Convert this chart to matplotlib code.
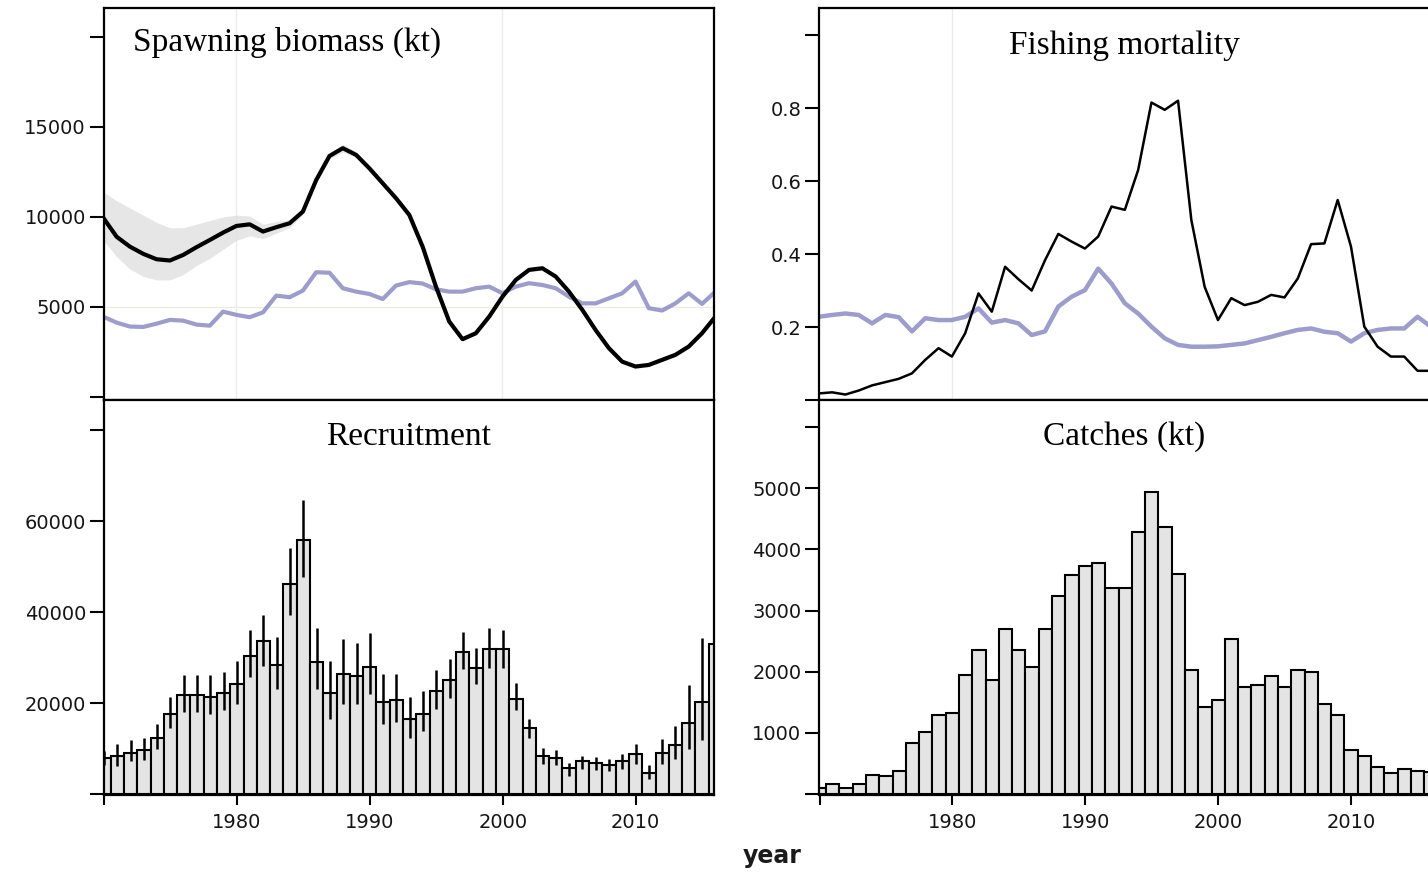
import matplotlib
matplotlib.use('Agg')
import matplotlib.pyplot as plt

years = list(range(1970, 2017))

ssb = [9950, 8900, 8350, 7950, 7650, 7580, 7890, 8320, 8720, 9130,
       9500, 9590, 9190, 9430, 9650, 10300, 12050, 13390, 13820, 13450,
       12700, 11870, 11040, 10110, 8350, 6130, 4190, 3210, 3540, 4460,
       5570, 6500, 7060, 7150, 6690, 5850, 4840, 3720, 2710, 1960,
       1690, 1780, 2060, 2340, 2800, 3540, 4460]
ssb_hi = [11400, 10900, 10500, 10100, 9700, 9400, 9400, 9600, 9800, 10000,
          10100, 10050, 9600, 9750, 9850, 10450, 12200, 13550, 14050, 13600,
          12800, 11970, 11140, 10210, 8450, 6230, 4290, 3310, 3640, 4560,
          5670, 6600, 7160, 7250, 6790, 5950, 4940, 3820, 2810, 2060,
          1790, 1880, 2160, 2440, 2900, 3640, 4560]
ssb_lo = [8700, 7800, 7100, 6700, 6500, 6500, 6800, 7300, 7700, 8200,
          8700, 8950, 8800, 9100, 9400, 10150, 11900, 13230, 13600, 13300,
          12600, 11770, 10940, 10010, 8250, 6030, 4090, 3110, 3440, 4360,
          5470, 6400, 6960, 7050, 6590, 5750, 4740, 3620, 2610, 1860,
          1590, 1680, 1960, 2240, 2700, 3440, 4360]
ssb_ref = [4460, 4130, 3910, 3890, 4070, 4280, 4240, 4020, 3960, 4740,
           4560, 4430, 4700, 5630, 5540, 5910, 6930, 6900, 6040, 5850,
           5720, 5440, 6190, 6380, 6300, 5980, 5850, 5850, 6040, 6130,
           5760, 6130, 6320, 6220, 6040, 5570, 5200, 5200, 5480, 5760,
           6410, 4930, 4800, 5200, 5760, 5170, 5850]

fmort = [0.018, 0.021, 0.015, 0.026, 0.040, 0.049, 0.058, 0.073, 0.110, 0.142,
         0.119, 0.183, 0.292, 0.242, 0.365, 0.331, 0.300, 0.383, 0.455, 0.434,
         0.415, 0.448, 0.530, 0.521, 0.630, 0.815, 0.795, 0.820, 0.493, 0.310,
         0.219, 0.279, 0.260, 0.269, 0.288, 0.281, 0.333, 0.427, 0.429, 0.548,
         0.420, 0.201, 0.146, 0.119, 0.119, 0.080, 0.080]
fmort_ref = [0.228, 0.233, 0.237, 0.233, 0.210, 0.233, 0.227, 0.188, 0.224, 0.219,
             0.219, 0.228, 0.251, 0.212, 0.219, 0.210, 0.178, 0.188, 0.256, 0.283,
             0.301, 0.360, 0.319, 0.265, 0.237, 0.201, 0.169, 0.151, 0.146, 0.146,
             0.147, 0.151, 0.155, 0.164, 0.173, 0.183, 0.192, 0.196, 0.187, 0.183,
             0.160, 0.183, 0.192, 0.196, 0.196, 0.228, 0.201]

rec = [7900, 8400, 9100, 9600, 12400, 17700, 21700, 21700, 21300, 22200,
       24200, 30300, 33600, 28300, 46100, 55800, 29000, 22200, 26300, 25900,
       27900, 20200, 20600, 16400, 17700, 22600, 25000, 31200, 27700, 31900,
       31900, 21000, 14500, 8400, 8000, 5700, 7200, 6800, 6400, 7200,
       8800, 4700, 9100, 10800, 15700, 20300, 32900]
rec_lo = [6500, 6200, 7200, 7400, 9900, 14600, 18100, 18100, 17500, 18400,
          19860, 25700, 28100, 23200, 39400, 47800, 23200, 16600, 19900, 19900,
          22000, 15500, 15900, 12400, 13900, 18600, 21200, 27400, 24100, 27700,
          27700, 18400, 12300, 6600, 6400, 4000, 5600, 5300, 5000, 5600,
          6700, 3300, 6700, 7700, 9900, 11800, 25000]
rec_hi = [9500, 11000, 11800, 12400, 15300, 21300, 26100, 26100, 26100, 26800,
          29200, 36100, 39400, 34500, 54000, 64600, 36500, 29200, 34100, 33200,
          35400, 26400, 26400, 21300, 22600, 27200, 29600, 35600, 32000, 36500,
          36100, 24500, 16600, 10200, 9600, 6900, 8400, 8200, 7700, 8900,
          10900, 6400, 12000, 15000, 23900, 34300, 43000]

catches = [100, 170, 100, 165, 320, 290, 380, 835, 1010, 1295,
           1320, 1940, 2350, 1870, 2690, 2350, 2075, 2690, 3240, 3580,
           3720, 3780, 3360, 3360, 4290, 4940, 4360, 3600, 2020, 1420,
           1540, 2540, 1750, 1790, 1930, 1750, 2020, 2000, 1470, 1290,
           720, 630, 450, 345, 410, 380, 355]

titles = ["Spawning biomass (kt)", "Fishing mortality", "Recruitment", "Catches (kt)"]
x_ticks = [1970, 1980, 1990, 2000, 2010]
x_ticklabels = ["", "1980", "1990", "2000", "2010"]

W, H = 1428, 873
fig = plt.figure(figsize=(W / 100, H / 100), dpi=100)

def frac_box(x0, y0, x1, y1):
    return [x0 / W, 1 - y1 / H, (x1 - x0) / W, (y1 - y0) / H]

ax_ssb = fig.add_axes(frac_box(104, 8, 714, 400))
ax_f = fig.add_axes(frac_box(819.5, 8, 1429.5, 400))
ax_rec = fig.add_axes(frac_box(104, 400, 714, 795))
ax_cat = fig.add_axes(frac_box(819.5, 400, 1429.5, 795))

bar_face = '#e4e4e4'
blue = '#9292c8'
tick_col = '#151515'

for ax in (ax_ssb, ax_f, ax_rec, ax_cat):
    ax.set_xlim(1970.05, 2015.9)
    for s in ax.spines.values():
        s.set_linewidth(1.6)
        s.set_color('black')
    ax.tick_params(axis='y', direction='out', length=10, width=1.5,
                   labelsize=14, pad=3, colors='black', labelcolor=tick_col)
    ax.tick_params(axis='x', direction='out', length=7, width=1.5,
                   labelsize=14, pad=6, colors='black', labelcolor=tick_col)

# Spawning biomass
ax_ssb.axhline(5000, color='#ebebe0', lw=1.0, zorder=0)
for yv in (1980, 2000):
    ax_ssb.axvline(yv, color='#ececec', lw=1.0, zorder=0)
ax_ssb.fill_between(years, ssb_lo, ssb_hi, color='#e0e0e0', alpha=0.8, lw=0, zorder=1)
ax_ssb.plot(years, ssb_ref, color=blue, lw=3.0, alpha=0.9, zorder=2)
ax_ssb.plot(years, ssb, color='black', lw=3.0, zorder=3)
ax_ssb.set_ylim(-170, 21610)
ax_ssb.set_yticks([0, 5000, 10000, 15000, 20000])
ax_ssb.set_yticklabels(['', '5000', '10000', '15000', ''])
ax_ssb.tick_params(axis='x', bottom=False, labelbottom=False)

# Fishing mortality
ax_f.axvline(1980, color='#ececec', lw=1.0, zorder=0)
ax_f.plot(years, fmort_ref, color=blue, lw=3.2, alpha=0.9, zorder=2)
ax_f.plot(years, fmort, color='black', lw=1.8, zorder=3)
ax_f.set_ylim(0, 1.074)
ax_f.set_yticks([0, 0.2, 0.4, 0.6, 0.8, 1.0])
ax_f.set_yticklabels(['', '0.2', '0.4', '0.6', '0.8', ''])
ax_f.tick_params(axis='x', bottom=False, labelbottom=False)

# Recruitment
ax_rec.bar(years, rec, width=1.0, color=bar_face, edgecolor='black', linewidth=1.5, zorder=2)
ax_rec.vlines(years, rec_lo, rec_hi, color='black', lw=1.8, zorder=3)
ax_rec.set_ylim(-200, 86600)
ax_rec.set_yticks([0, 20000, 40000, 60000, 80000])
ax_rec.set_yticklabels(['', '20000', '40000', '60000', ''])
ax_rec.set_xticks(x_ticks)
ax_rec.set_xticklabels(x_ticklabels)

# Catches
ax_cat.bar(years, catches, width=1.0, color=bar_face, edgecolor='black', linewidth=1.5, zorder=2)
ax_cat.set_ylim(-15, 6440)
ax_cat.set_yticks([0, 1000, 2000, 3000, 4000, 5000, 6000])
ax_cat.set_yticklabels(['', '1000', '2000', '3000', '4000', '5000', ''])
ax_cat.set_xticks(x_ticks)
ax_cat.set_xticklabels(x_ticklabels)

title_font = dict(family=['Liberation Serif', 'DejaVu Serif'], fontsize=24, color='black')
ax_ssb.text(0.0475, 0.890, titles[0], transform=ax_ssb.transAxes, ha='left', va='baseline', **title_font)
ax_f.text(0.5, 0.882, titles[1], transform=ax_f.transAxes, ha='center', va='baseline', **title_font)
ax_rec.text(0.5, 0.886, titles[2], transform=ax_rec.transAxes, ha='center', va='baseline', **title_font)
ax_cat.text(0.5, 0.886, titles[3], transform=ax_cat.transAxes, ha='center', va='baseline', **title_font)

fig.text(772 / W, 1 - 856 / H, 'year', ha='center', va='center', fontsize=17,
         fontweight='bold', color='#1a1a1a')

fig.savefig('out.png', dpi=100)
